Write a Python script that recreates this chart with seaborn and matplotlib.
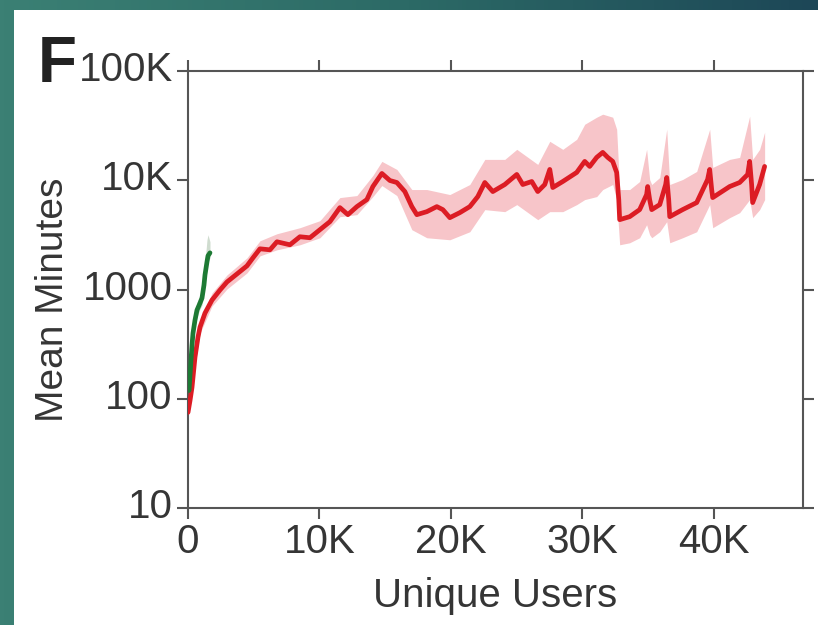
import numpy as np
import pandas as pd
import matplotlib
matplotlib.use("Agg")
import matplotlib.pyplot as plt
import seaborn as sns
from matplotlib.colors import LinearSegmentedColormap
from matplotlib.patches import Rectangle
from matplotlib.ticker import NullLocator
from matplotlib.transforms import ScaledTranslation

# ---------------- data ----------------
red_users = [0, 152, 304, 532, 760, 913, 1293, 1825, 2434, 2966, 3726, 4487, 4943, 5476,
             6236, 6768, 7757, 8517, 9278, 10038, 10799, 11559, 12167, 12852, 13612, 14069,
             14753, 15362, 15894, 16502, 17034, 17414, 18175, 18935, 19392, 19924, 20685,
             21445, 22054, 22587, 23195, 24107, 25020, 25476, 26160, 26616, 27150, 27530,
             27760, 28520, 29580, 30190, 30570, 31100, 31560, 31940, 32320, 32620, 32780,
             32850, 33610, 34370, 34900, 34980, 35130, 35290, 35900, 36350, 36430, 36580,
             36660, 37640, 38710, 39540, 39700, 39850, 39930, 41220, 41980, 42590, 42740,
             42890, 42970, 43500, 43880]
red_mean = [75, 96, 127, 240, 366, 452, 608, 800, 989, 1172, 1388, 1645, 1949, 2357,
            2308, 2734, 2566, 3040, 2976, 3526, 4177, 5616, 4843, 5737, 6653, 8760,
            11540, 9947, 9535, 7879, 5737, 4843, 5159, 5737, 5383, 4545, 5052,
            5737, 7089, 9535, 7879, 9140, 11300, 9140, 9738, 7879, 9140, 12560,
            8577, 9738, 11790, 14880, 13380, 16190, 17990, 16190, 14880, 11790, 6653,
            4357, 4642, 5383, 7396, 8760, 6653, 5383, 5984, 9140, 10600, 6653,
            4642, 5383, 6245, 10160, 12560, 8220, 6939, 8760, 9535, 11300, 14880,
            9140, 6245, 9140, 13380]

band_users = [0, 532, 913, 1825, 2966, 4487, 5476, 6768, 8517, 10038, 11559, 12852, 14069,
              14753, 15894, 17034, 18175, 19924, 21445, 22587, 24107, 25020, 26616, 27530,
              28520, 29580, 30190, 31100, 31560, 32320, 32620, 32850, 33610, 34370, 34900,
              35130, 35290, 35900, 36430, 36660, 37640, 38710, 39700, 39930, 41220, 41980,
              42740, 42970, 43500, 43880]
band_high = [87, 278, 524, 929, 1359, 1949, 2793, 3238, 3677, 4266, 6939, 7241, 11060,
             14880, 12560, 8220, 8220, 7396, 9140, 15520, 15520, 19180, 13960, 22720,
             19180, 23700, 32550, 37760, 40240, 37760, 29280, 8220, 8220, 9738, 19180,
             10160, 9140, 10600, 29280, 9140, 10160, 12040, 29280, 13100, 15520, 16190,
             38570, 15520, 19180, 27490]
band_low = [70, 202, 398, 705, 1011, 1418, 2032, 2308, 2566, 2976, 4642, 4843, 7089,
            8946, 7241, 3526, 2976, 2853, 3379, 5383, 5159, 5984, 4357, 5159,
            5159, 5984, 6653, 7089, 8220, 9140, 6653, 2566, 2677, 2976, 3919,
            3170, 2976, 3379, 4177, 2677, 2976, 3379, 5984, 3677, 4545, 5052,
            6653, 4545, 5383, 6653]

green_users = [76, 228, 304, 380, 532, 684, 913, 1065, 1217, 1293, 1445, 1521, 1673]
green_mean = [119, 225, 309, 398, 524, 648, 751, 835, 1100, 1359, 1790, 2032, 2166]
green_high = [147, 278, 382, 472, 621, 767, 890, 989, 1359, 1790, 2853, 3170, 2734]
green_low = [100, 190, 266, 343, 452, 559, 662, 720, 949, 1147, 1511, 1790, 1949]

x_ticks = [0, 10000, 20000, 30000, 40000]
x_ticklabels = ["0", "10K", "20K", "30K", "40K"]
y_ticks = [10, 100, 1000, 10000, 100000]
y_ticklabels = ["10", "100", "1000", "10K", "100K"]

# ---------------- style ----------------
sns.set_theme(style="white")
plt.rcParams["font.family"] = ["Liberation Sans", "DejaVu Sans"]

RED = "#dc1c24"
PINK = "#f7c5c9"
GREEN = "#1d7a34"
GREEN_BAND = "#cfdccf"
SPINE = "#555555"
TEXT = "#353535"

fig = plt.figure(figsize=(8.18, 6.25), dpi=100)

# background: teal frame + white panel
bg = fig.add_axes([0, 0, 1, 1], zorder=-10)
bg.axis("off")
cmap = LinearSegmentedColormap.from_list("teal", ["#3b8074", "#2c6a66", "#1d4757"])
grad = np.tile(np.linspace(0, 1, 200), (20, 1))
bg.imshow(grad, cmap=cmap, aspect="auto", extent=[0, 1, 0, 1])
bg.add_patch(Rectangle((14 / 818, 0), 1, 1 - 10 / 625, facecolor="white",
                       edgecolor="none", transform=bg.transAxes))
bg.set_xlim(0, 1)
bg.set_ylim(0, 1)

ax = fig.add_axes([188 / 818, 1 - 508 / 625, (803 - 188) / 818, (508 - 71) / 625])
ax.set_facecolor("white")

red_df = pd.DataFrame({"users": red_users, "minutes": red_mean})
green_df = pd.DataFrame({"users": green_users, "minutes": green_mean})

ax.fill_between(band_users, band_low, band_high, color=PINK, lw=0, zorder=1)
ax.fill_between(green_users, green_low, green_high, color=GREEN_BAND, lw=0, zorder=1)
sns.lineplot(data=red_df, x="users", y="minutes", color=RED, lw=3.4, sort=False,
             estimator=None, ax=ax, zorder=3)
sns.lineplot(data=green_df, x="users", y="minutes", color=GREEN, lw=3.4, sort=False,
             estimator=None, ax=ax, zorder=4)

ax.set_yscale("log")
ax.set_ylim(10, 100000)
ax.set_xlim(0, 46800)
ax.yaxis.set_minor_locator(NullLocator())
ax.xaxis.set_minor_locator(NullLocator())
ax.set_xticks(x_ticks)
ax.set_xticklabels(x_ticklabels)
ax.set_yticks(y_ticks)
ax.set_yticklabels(y_ticklabels)

for s in ax.spines.values():
    s.set_visible(True)
    s.set_color(SPINE)
    s.set_linewidth(1.5)

ax.tick_params(which="major", direction="out", length=8, width=1.5, color=SPINE,
               left=True, bottom=True, top=True, right=True,
               labelleft=True, labelbottom=True, labeltop=False, labelright=False,
               labelsize=29, labelcolor=TEXT, pad=3)

# y tick labels sit slightly above their ticks in the reference
shift_up = ScaledTranslation(0, 0.05, fig.dpi_scale_trans)
for lab in ax.get_yticklabels():
    lab.set_transform(lab.get_transform() + shift_up)

ax.set_xlabel("Unique Users", fontsize=29, color=TEXT)
ax.set_ylabel("Mean Minutes", fontsize=28, color=TEXT)
ax.yaxis.set_label_coords(-0.19, 0.477)
ax.xaxis.set_label_coords(0.5, -0.158)

fig.text(38 / 818, 1 - 82 / 625, "F", fontsize=46, fontweight="bold", color="#222222",
         va="baseline", ha="left")

fig.savefig("out.png", dpi=100)
